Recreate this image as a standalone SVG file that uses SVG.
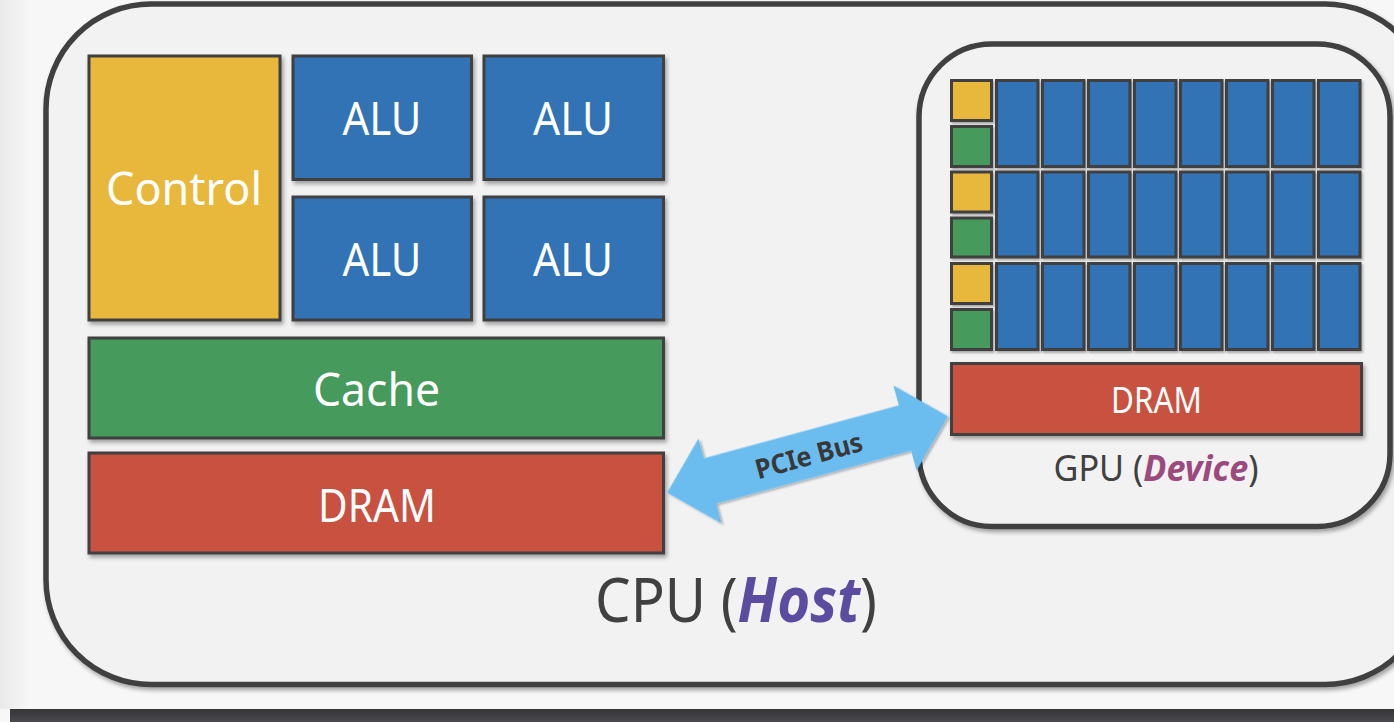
<svg xmlns="http://www.w3.org/2000/svg" width="1394" height="722" viewBox="0 0 1394 722">
  <defs>
    <filter id="sh" x="-10%" y="-10%" width="130%" height="140%">
      <feDropShadow dx="2" dy="3" stdDeviation="2" flood-color="#000" flood-opacity="0.35"/>
    </filter>
    <filter id="shs" x="-20%" y="-20%" width="150%" height="150%">
      <feDropShadow dx="1.5" dy="2" stdDeviation="1.2" flood-color="#000" flood-opacity="0.3"/>
    </filter>
    <linearGradient id="bar" x1="0" y1="0" x2="0" y2="1">
      <stop offset="0" stop-color="#353538"/>
      <stop offset="1" stop-color="#4a4a4e"/>
    </linearGradient>
    <linearGradient id="lstrip" x1="0" y1="0" x2="1" y2="0">
      <stop offset="0" stop-color="#e9e9e9"/>
      <stop offset="1" stop-color="#f7f7f7"/>
    </linearGradient>
    <style>
      .box { stroke: #3f3f3f; stroke-width: 3; }
      .cell { stroke: #3f3f3f; stroke-width: 3; }
      .yel { fill: #e8b83e; }
      .blu { fill: #3373b6; }
      .grn { fill: #459a5c; }
      .red { fill: #c85141; }
      .lbl { font-family: "Noto Sans", "Open Sans", sans-serif; fill: #ffffff; text-anchor: middle; }
      .cap { font-family: "Noto Sans", "Open Sans", sans-serif; fill: #404040; text-anchor: middle; }
      .frame { fill: #f2f2f2; stroke: #404040; stroke-width: 5.5; }
    </style>
  </defs>

  <!-- background -->
  <rect x="0" y="0" width="1394" height="722" fill="#f7f7f7"/>
  <rect x="0" y="0" width="30" height="709" fill="url(#lstrip)"/>
  <rect x="10" y="709" width="1384" height="13" fill="url(#bar)"/>

  <!-- CPU host -->
  <g id="cpu">
    <rect class="frame" x="46" y="4" width="1384" height="680.5" rx="105" ry="105" filter="url(#sh)"/>
    <text class="cap" x="736" y="622" font-size="62" textLength="282" lengthAdjust="spacingAndGlyphs">CPU (<tspan fill="#5b4ca0" font-weight="bold" font-style="italic">Host</tspan>)</text>
  </g>

  <g id="control">
    <rect class="box yel" x="89" y="56" width="191" height="264" filter="url(#sh)"/>
    <text class="lbl" x="184" y="205" font-size="45" textLength="156" lengthAdjust="spacingAndGlyphs">Control</text>
  </g>
  <g id="alu1">
    <rect class="box blu" x="293" y="56" width="178.5" height="123.5" filter="url(#sh)"/>
    <text class="lbl" x="382" y="135" font-size="45" textLength="79" lengthAdjust="spacingAndGlyphs">ALU</text>
  </g>
  <g id="alu2">
    <rect class="box blu" x="484" y="56" width="179.5" height="123.5" filter="url(#sh)"/>
    <text class="lbl" x="573" y="135" font-size="45" textLength="80" lengthAdjust="spacingAndGlyphs">ALU</text>
  </g>
  <g id="alu3">
    <rect class="box blu" x="293" y="197" width="178.5" height="123" filter="url(#sh)"/>
    <text class="lbl" x="382" y="276" font-size="45" textLength="79" lengthAdjust="spacingAndGlyphs">ALU</text>
  </g>
  <g id="alu4">
    <rect class="box blu" x="484" y="197" width="179.5" height="123" filter="url(#sh)"/>
    <text class="lbl" x="573" y="276" font-size="45" textLength="80" lengthAdjust="spacingAndGlyphs">ALU</text>
  </g>
  <g id="cache">
    <rect class="box grn" x="89" y="338" width="574.5" height="100" filter="url(#sh)"/>
    <text class="lbl" x="376.5" y="406" font-size="46" textLength="127" lengthAdjust="spacingAndGlyphs">Cache</text>
  </g>
  <g id="cpu-dram">
    <rect class="box red" x="89" y="453" width="574.5" height="100" filter="url(#sh)"/>
    <text class="lbl" x="377" y="522" font-size="45" textLength="118" lengthAdjust="spacingAndGlyphs">DRAM</text>
  </g>

  <!-- GPU device -->
  <g id="gpu">
    <rect class="frame" x="919" y="44" width="471" height="482.5" rx="73" ry="73" filter="url(#sh)"/>
    <text class="cap" x="1156" y="481" font-size="36" textLength="205" lengthAdjust="spacingAndGlyphs">GPU (<tspan fill="#9a4a7c" font-weight="bold" font-style="italic">Device</tspan>)</text>
  </g>

  <g id="gpu-cores" filter="url(#shs)">
    <!-- control / cache column -->
    <rect class="cell yel" x="951.5" y="80.5" width="40" height="40"/>
    <rect class="cell grn" x="951.5" y="126.5" width="40" height="40"/>
    <rect class="cell yel" x="951.5" y="172" width="40" height="40"/>
    <rect class="cell grn" x="951.5" y="218" width="40" height="39"/>
    <rect class="cell yel" x="951.5" y="263.5" width="40" height="40"/>
    <rect class="cell grn" x="951.5" y="309.5" width="40" height="40"/>
    <!-- row 1 -->
    <rect class="cell blu" x="996.5" y="80.5" width="41.5" height="86"/>
    <rect class="cell blu" x="1042.5" y="80.5" width="41.5" height="86"/>
    <rect class="cell blu" x="1088.5" y="80.5" width="41.5" height="86"/>
    <rect class="cell blu" x="1134.5" y="80.5" width="41.5" height="86"/>
    <rect class="cell blu" x="1180.5" y="80.5" width="41.5" height="86"/>
    <rect class="cell blu" x="1226.5" y="80.5" width="41.5" height="86"/>
    <rect class="cell blu" x="1272.5" y="80.5" width="41.5" height="86"/>
    <rect class="cell blu" x="1318.5" y="80.5" width="41.5" height="86"/>
    <!-- row 2 -->
    <rect class="cell blu" x="996.5" y="172" width="41.5" height="85"/>
    <rect class="cell blu" x="1042.5" y="172" width="41.5" height="85"/>
    <rect class="cell blu" x="1088.5" y="172" width="41.5" height="85"/>
    <rect class="cell blu" x="1134.5" y="172" width="41.5" height="85"/>
    <rect class="cell blu" x="1180.5" y="172" width="41.5" height="85"/>
    <rect class="cell blu" x="1226.5" y="172" width="41.5" height="85"/>
    <rect class="cell blu" x="1272.5" y="172" width="41.5" height="85"/>
    <rect class="cell blu" x="1318.5" y="172" width="41.5" height="85"/>
    <!-- row 3 -->
    <rect class="cell blu" x="996.5" y="263.5" width="41.5" height="86"/>
    <rect class="cell blu" x="1042.5" y="263.5" width="41.5" height="86"/>
    <rect class="cell blu" x="1088.5" y="263.5" width="41.5" height="86"/>
    <rect class="cell blu" x="1134.5" y="263.5" width="41.5" height="86"/>
    <rect class="cell blu" x="1180.5" y="263.5" width="41.5" height="86"/>
    <rect class="cell blu" x="1226.5" y="263.5" width="41.5" height="86"/>
    <rect class="cell blu" x="1272.5" y="263.5" width="41.5" height="86"/>
    <rect class="cell blu" x="1318.5" y="263.5" width="41.5" height="86"/>
  </g>

  <g id="gpu-dram">
    <rect class="box red" x="951.5" y="363.5" width="410" height="71" filter="url(#sh)"/>
    <text class="lbl" x="1156.5" y="413" font-size="36" textLength="91" lengthAdjust="spacingAndGlyphs">DRAM</text>
  </g>

  <!-- connectors -->
  <g id="connectors">
    <g transform="translate(807.5 454.5) rotate(-15.2)">
      <polygon points="-145.5,0 -101,-44 -101,-23.5 101,-23.5 101,-44 145.5,0 101,44 101,23.5 -101,23.5 -101,44" fill="#6cbdef" filter="url(#shs)"/>
      <text x="1" y="11" font-family="'Noto Sans', 'Open Sans', sans-serif" font-weight="bold" font-size="27" fill="#383838" text-anchor="middle" textLength="110" lengthAdjust="spacingAndGlyphs">PCIe Bus</text>
    </g>
  </g>
</svg>
